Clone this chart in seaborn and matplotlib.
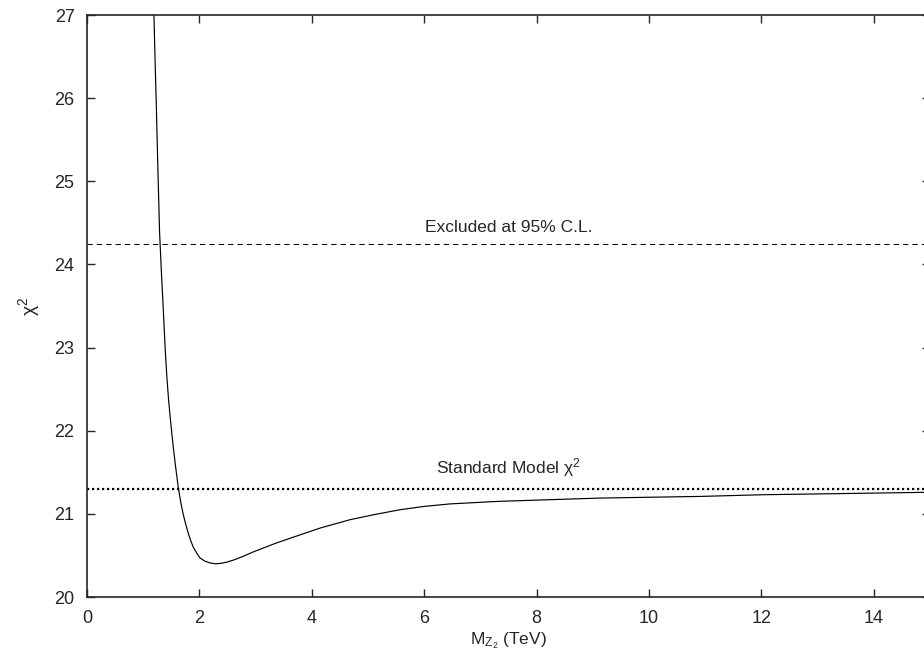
import numpy as np
import pandas as pd
import matplotlib
matplotlib.use("Agg")
import matplotlib.pyplot as plt
import seaborn as sns

# chi^2 vs Z2 mass
mz2 = [1.19, 1.21, 1.23, 1.26, 1.29, 1.32, 1.35, 1.39, 1.42, 1.45, 1.48, 1.51, 1.54, 1.57,
       1.60, 1.625, 1.67, 1.71, 1.75, 1.80, 1.85, 1.89, 1.95, 2.01, 2.10, 2.19, 2.28, 2.38,
       2.49, 2.63, 2.78, 2.93, 3.08, 3.37, 3.67, 4.15, 4.68, 5.10, 5.57, 6.00, 6.46, 7.30,
       8.20, 9.13, 10.00, 10.91, 12.00, 13.00, 14.00, 15.00]
chi2 = [27.00, 26.48, 25.98, 25.17, 24.40, 23.95, 23.55, 22.99, 22.65, 22.38, 22.16, 21.96, 21.77, 21.60,
        21.44, 21.31, 21.13, 21.00, 20.89, 20.77, 20.67, 20.60, 20.53, 20.47, 20.43, 20.41, 20.40, 20.405,
        20.42, 20.45, 20.49, 20.535, 20.575, 20.65, 20.72, 20.83, 20.93, 20.99, 21.05, 21.09, 21.12, 21.15,
        21.17, 21.19, 21.20, 21.21, 21.23, 21.24, 21.25, 21.26]
excluded = 24.25
sm_chi2 = 21.30

df = pd.DataFrame({"mz2": mz2, "chi2": chi2})

sns.set_style("ticks")
plt.rcParams["font.family"] = ["Liberation Sans", "DejaVu Sans"]
plt.rcParams["mathtext.fontset"] = "custom"
plt.rcParams["mathtext.rm"] = "Liberation Sans"
plt.rcParams["mathtext.it"] = "Liberation Sans"

fig = plt.figure(figsize=(9.24, 6.56), dpi=100)
ax = fig.add_axes([0.0942, 0.0899, 0.9123, 0.8872])

sns.lineplot(data=df, x="mz2", y="chi2", ax=ax, color="black", linewidth=0.85)
ax.axhline(excluded, color="black", linewidth=0.75, linestyle=(0, (5, 4)))
ax.axhline(sm_chi2, color="black", linewidth=1.6, linestyle=(0, (1, 1.25)))

ax.text(7.5, excluded + 0.1, "Excluded at 95% C.L.", ha="center", va="bottom", fontsize=12.5)
ax.text(7.5, sm_chi2 + 0.12, "Standard Model χ$^2$", ha="center", va="bottom", fontsize=12.5)

ax.set_xlim(0, 15)
ax.set_ylim(20, 27)
ax.set_xticks(range(0, 15, 2))
ax.set_yticks(range(20, 28))
ax.tick_params(direction="in", length=6, width=1, labelsize=13, top=True, right=True)
ax.tick_params(axis="x", pad=9)
ax.tick_params(axis="y", pad=9)
for s in ax.spines.values():
    s.set_linewidth(1.2)
ax.set_xlabel("M$_{Z_2}$ (TeV)", fontsize=12.5, labelpad=3)
ax.set_ylabel("χ$^2$", fontsize=14, labelpad=9)

fig.savefig("out.png", dpi=100)
